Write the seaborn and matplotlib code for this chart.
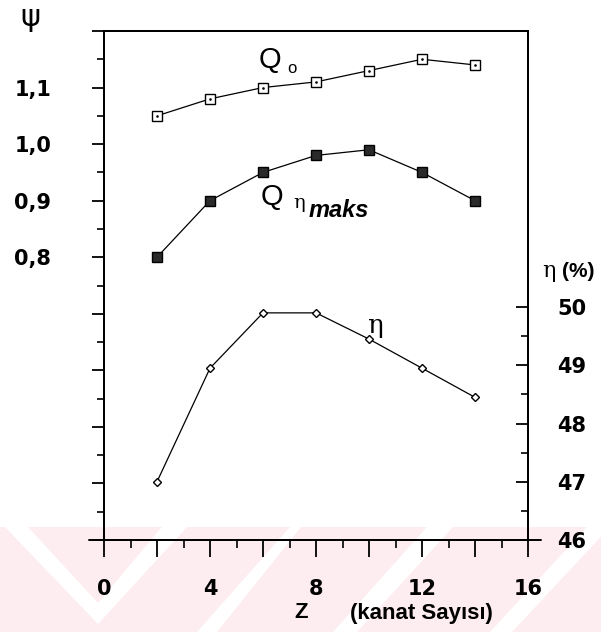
import numpy as np
import matplotlib.pyplot as plt
import seaborn as sns
import pandas as pd
from matplotlib.patches import Polygon, Rectangle
from matplotlib.ticker import MultipleLocator, FixedLocator, FuncFormatter

# Z (kanat sayısı) değerleri
z_q0 = [2, 4, 6, 8, 10, 12, 14]
psi_q0 = [1.05, 1.08, 1.10, 1.11, 1.13, 1.15, 1.14]

z_qeta = [2, 4, 6, 8, 10, 12, 14]
psi_qeta = [0.80, 0.90, 0.95, 0.98, 0.99, 0.95, 0.90]

z_eta = [2, 4, 6, 8, 10, 12, 14]
eta_pct = [47.0, 48.95, 49.9, 49.9, 49.45, 48.95, 48.45]

psi_ticks = [0.8, 0.9, 1.0, 1.1]
psi_labels = ["0,8", "0,9", "1,0", "1,1"]
eta_ticks = [46, 47, 48, 49, 50]
z_label_step = 4

sns.set_style("ticks")
plt.rcParams['font.family'] = ['DejaVu Sans']
plt.rcParams['text.color'] = 'black'
plt.rcParams['xtick.color'] = 'black'
plt.rcParams['ytick.color'] = 'black'
plt.rcParams['axes.edgecolor'] = 'black'

W, H = 601, 632
fig = plt.figure(figsize=(W / 100, H / 100), dpi=100)


def px(x, y):
    return x / W, 1 - y / H


# alt kisimdaki soluk pembe filigran
pink = "#fdedf0"
fig.patches.append(Rectangle(px(0, 632), 1, 105 / H, transform=fig.transFigure,
                             facecolor=pink, edgecolor="none", zorder=-2))
white_bands = [
    [(5, 527), (28, 527), (98, 603), (162, 527), (187, 527), (98, 624)],
    [(290, 527), (301, 527), (217, 632), (197, 632)],
    [(427, 527), (453, 527), (357, 632), (333, 632)],
    [(587, 527), (610, 527), (512, 632), (490, 632)],
]
for band in white_bands:
    fig.patches.append(Polygon([px(x, y) for x, y in band], closed=True,
                               transform=fig.transFigure, facecolor="white",
                               edgecolor="none", zorder=-1))

ax = fig.add_axes([104 / W, 1 - 540 / H, 424 / W, 509 / H])
ax2 = ax.twinx()
ax.set_facecolor("none")
ax2.set_facecolor("none")

df_q0 = pd.DataFrame({"Z": z_q0, "psi": psi_q0})
df_qeta = pd.DataFrame({"Z": z_qeta, "psi": psi_qeta})
df_eta = pd.DataFrame({"Z": z_eta, "eta": eta_pct})

# Q0 egrisi: ici noktali kare
sns.lineplot(data=df_q0, x="Z", y="psi", ax=ax, color="black", lw=0.9,
             marker="s", markersize=7, markerfacecolor="white",
             markeredgecolor="black", markeredgewidth=1.0)
sns.scatterplot(data=df_q0, x="Z", y="psi", ax=ax, color="black",
                marker=".", s=14, linewidth=0, zorder=5)

# Q eta maks egrisi: dolu kare
sns.lineplot(data=df_qeta, x="Z", y="psi", ax=ax, color="black", lw=0.9,
             marker="s", markersize=6.5, markerfacecolor="#2a2a2a",
             markeredgecolor="black", markeredgewidth=1.0)

# verim egrisi: bos baklava
sns.lineplot(data=df_eta, x="Z", y="eta", ax=ax2, color="black", lw=0.9,
             marker="D", markersize=4.5, markerfacecolor="white",
             markeredgecolor="black", markeredgewidth=1.0)

ax.set_xlim(0, 16)
ax.set_ylim(0.3, 1.2)
ax2.set_ylim(46, 54.74)

for a in (ax, ax2):
    a.set_xlabel("")
    a.set_ylabel("")
    for s in a.spines.values():
        s.set_visible(True)
        s.set_linewidth(1.4)
        s.set_color("black")

# x ekseni
ax.xaxis.set_major_locator(MultipleLocator(2))
ax.xaxis.set_minor_locator(MultipleLocator(1))
ax.xaxis.set_major_formatter(FuncFormatter(
    lambda v, p: f"{v:g}" if round(v) % z_label_step == 0 else ""))
ax.tick_params(axis="x", which="major", direction="out", length=12, width=1.3,
               pad=16, labelsize=15, colors="black")
ax.tick_params(axis="x", which="minor", direction="out", length=6, width=1.2)
for lab in ax.get_xticklabels():
    lab.set_fontweight("bold")

# sol eksen (psi)
ax.yaxis.set_major_locator(MultipleLocator(0.1))
ax.yaxis.set_minor_locator(MultipleLocator(0.05))
ax.yaxis.set_major_formatter(FuncFormatter(
    lambda v, p: psi_labels[psi_ticks.index(round(v, 2))]
    if round(v, 2) in psi_ticks else ""))
ax.tick_params(axis="y", which="major", direction="out", length=9, width=1.3,
               pad=29, labelsize=15, colors="black")
ax.tick_params(axis="y", which="minor", direction="out", length=5, width=1.2)
for lab in ax.get_yticklabels():
    lab.set_fontweight("bold")

# sag eksen (verim)
ax2.yaxis.set_major_locator(FixedLocator(eta_ticks))
ax2.yaxis.set_minor_locator(FixedLocator([t + 0.5 for t in eta_ticks[:-1]]))
ax2.tick_params(axis="y", which="major", direction="in", length=9, width=1.3,
                pad=21, labelsize=15, colors="black")
ax2.tick_params(axis="y", which="minor", direction="in", length=5, width=1.2)
for lab in ax2.get_yticklabels():
    lab.set_fontweight("bold")

# x ekseni cizgisi spinelerin biraz disina tasiyor
ax.plot([-0.035, 1.03], [0, 0], transform=ax.transAxes, color="black",
        lw=1.4, clip_on=False)

# etiketler
fig.text(*px(30, 18), "ψ", fontsize=22, ha="center", va="center",
         family="DejaVu Sans")
fig.text(*px(259, 68), "Q", fontsize=21, ha="left", va="baseline",
         family="Liberation Sans")
fig.text(*px(287, 73), "o", fontsize=12, ha="left", va="baseline",
         family="Liberation Sans")
fig.text(*px(261, 205), "Q", fontsize=21, ha="left", va="baseline",
         family="Liberation Sans")
fig.text(*px(293, 208), "η", fontsize=14, ha="left", va="baseline",
         family="DejaVu Serif")
fig.text(*px(309, 217), "maks", fontsize=17, ha="left", va="baseline",
         family="Liberation Sans", fontweight="bold", style="italic")
fig.text(*px(375, 325), "η", fontsize=19, ha="center", va="center",
         family="DejaVu Serif")
fig.text(*px(549, 271), "η", fontsize=16, ha="center", va="center",
         family="DejaVu Serif")
fig.text(*px(562, 277), "(%)", fontsize=15, ha="left", va="baseline",
         family="Liberation Sans", fontweight="bold")
fig.text(*px(301, 613), "Z", fontsize=16, ha="center", va="center",
         family="Liberation Sans", fontweight="bold")
fig.text(*px(421, 613), "(kanat Sayısı)", fontsize=16, ha="center",
         va="center", family="Liberation Sans", fontweight="bold")

plt.savefig("out.png", dpi=100, facecolor="white")
plt.close()
